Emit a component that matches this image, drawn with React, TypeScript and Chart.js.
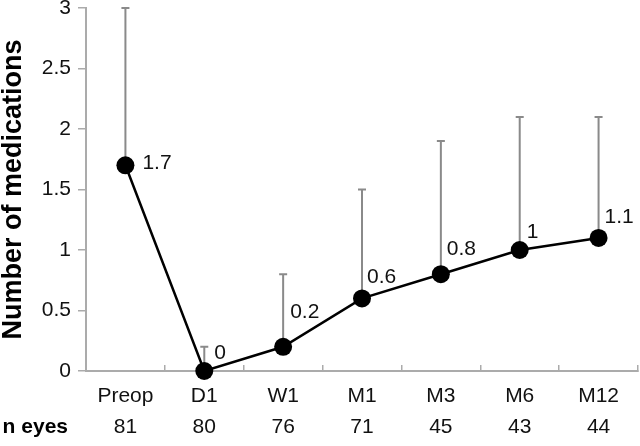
import React, { useEffect, useRef } from 'react';
import { Chart, registerables } from 'chart.js';

Chart.register(...registerables);

const categories = ['Preop', 'D1', 'W1', 'M1', 'M3', 'M6', 'M12'];
const meanValues = [1.7, 0, 0.2, 0.6, 0.8, 1, 1.1];
const upperValues = [3.0, 0.2, 0.8, 1.5, 1.9, 2.1, 2.1];
const nEyes = [81, 80, 76, 71, 45, 43, 44];
const valueLabels = ['1.7', '0', '0.2', '0.6', '0.8', '1', '1.1'];
const yTickValues = [0, 0.5, 1, 1.5, 2, 2.5, 3];

// label placement offsets (style, px)
const LABEL_OFFSETS: [number, number][] = [
  [17, -2], [10, -18], [7, -35], [5, -21], [6, -25], [7, -18], [6, -21],
];

const FONT = '"Liberation Sans", Arial, Helvetica, sans-serif';
const AXIS_GRAY = '#ababab';
const BAR_GRAY = '#8a8a8a';

const overlay = {
  id: 'overlay',
  beforeDatasetsDraw(chart: any) {
    const { ctx } = chart;
    const xs = chart.scales.x;
    const ys = chart.scales.y;
    ctx.save();
    ctx.strokeStyle = BAR_GRAY;
    ctx.lineWidth = 2;
    categories.forEach((_, i) => {
      const x = xs.getPixelForValue(i);
      const y0 = ys.getPixelForValue(meanValues[i]);
      const y1 = ys.getPixelForValue(upperValues[i]);
      ctx.beginPath();
      ctx.moveTo(x, y0);
      ctx.lineTo(x, y1);
      ctx.moveTo(x - 4, y1);
      ctx.lineTo(x + 4, y1);
      ctx.stroke();
    });
    ctx.restore();
  },
  afterDatasetsDraw(chart: any) {
    const { ctx } = chart;
    const xs = chart.scales.x;
    const ys = chart.scales.y;
    ctx.save();
    ctx.fillStyle = '#111';
    ctx.font = `21px ${FONT}`;
    ctx.textAlign = 'left';
    ctx.textBaseline = 'middle';
    valueLabels.forEach((t, i) => {
      const x = xs.getPixelForValue(i);
      const y = ys.getPixelForValue(meanValues[i]);
      ctx.fillText(t, x + LABEL_OFFSETS[i][0], y + LABEL_OFFSETS[i][1]);
    });
    ctx.font = `bold 21px ${FONT}`;
    ctx.textAlign = 'right';
    ctx.fillStyle = '#000';
    ctx.fillText('n eyes', 68, 427);
    ctx.restore();
  },
};

export default function App() {
  const ref = useRef<HTMLCanvasElement>(null);
  useEffect(() => {
    document.body.style.margin = '0';
    const chart = new Chart(ref.current as HTMLCanvasElement, {
      type: 'line',
      data: {
        labels: categories,
        datasets: [
          {
            data: meanValues,
            borderColor: '#000',
            borderWidth: 2.5,
            pointRadius: 9,
            pointBackgroundColor: '#000',
            pointBorderWidth: 0,
            tension: 0,
            clip: false as any,
          },
        ],
      },
      options: {
        animation: false,
        responsive: false,
        layout: { autoPadding: false, padding: { top: 8, right: 2, left: 0, bottom: 0 } },
        plugins: { legend: { display: false }, tooltip: { enabled: false } },
        scales: {
          x: {
            type: 'category',
            offset: true,
            grid: { drawOnChartArea: false, tickLength: -6, color: AXIS_GRAY, offset: true, lineWidth: 1.5 },
            border: { color: AXIS_GRAY, width: 2 },
            ticks: {
              padding: 16,
              color: '#111',
              font: { family: FONT, size: 21, lineHeight: 30.5 / 21 },
              autoSkip: false,
              maxRotation: 0,
              callback: (_v: any, i: number) => [categories[i], String(nEyes[i])],
            },
            afterFit: (s: any) => {
              s.height = 75;
              s.paddingLeft = 0;
              s.paddingRight = 0;
            },
          },
          y: {
            min: 0,
            max: 3,
            grid: { drawOnChartArea: false, tickLength: 8, color: AXIS_GRAY, lineWidth: 1.5 },
            border: { color: AXIS_GRAY, width: 2 },
            afterBuildTicks: (s: any) => { s.ticks = yTickValues.map((v) => ({ value: v })); },
            ticks: {
              padding: 7,
              color: '#111',
              font: { family: FONT, size: 21 },
              callback: (v: any) => String(v),
            },
            title: {
              display: true,
              text: 'Number of medications',
              color: '#000',
              font: { family: FONT, size: 27, weight: 'bold', lineHeight: 1 },
              padding: 0,
            },
            afterFit: (s: any) => {
              s.width = 86;
              s.paddingTop = 0;
              s.paddingBottom = 0;
            },
          },
        },
      },
      plugins: [overlay],
    });
    return () => chart.destroy();
  }, []);
  return <canvas ref={ref} width={640} height={446} style={{ display: 'block' }} />;
}
